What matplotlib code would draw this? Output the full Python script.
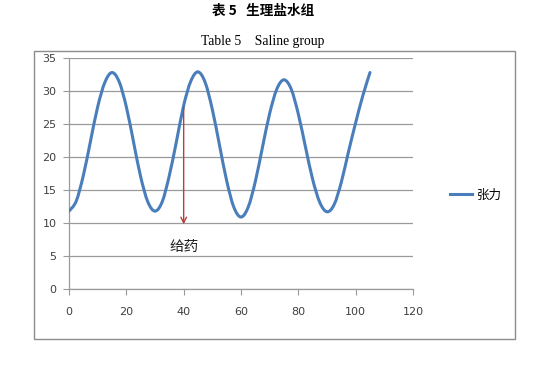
import matplotlib
matplotlib.use("Agg")
import matplotlib.pyplot as plt
from matplotlib.patches import Rectangle, PathPatch
from matplotlib.path import Path
from matplotlib.lines import Line2D

# ==========================================
# DATA
# ==========================================
time = [0, 2.5, 5, 7.5, 10, 12.5, 15, 17.5, 20, 22.5, 25, 27.5, 30,
        32.5, 35, 37.5, 40, 42.5, 45, 47.5, 50, 52.5, 55, 57.5, 60,
        62.5, 65, 67.5, 70, 72.5, 75, 77.5, 80, 82.5, 85, 87.5, 90,
        92.5, 95, 97.5, 100, 102.5, 105]
tension = [11.8, 13.3, 17.2, 22.4, 27.6, 31.3, 32.8, 31.4, 27.6, 22.3, 17.0, 13.2, 11.8,
           13.2, 17.2, 22.4, 27.8, 31.5, 32.9, 31.3, 27.2, 21.8, 16.4, 12.4, 10.9,
           12.4, 16.3, 21.5, 26.6, 30.3, 31.7, 30.3, 26.5, 21.5, 16.6, 13.1, 11.7,
           12.8, 16.2, 20.8, 25.2, 29.3, 32.8]
series_name = "张力"
dose_time = 40
dose_from, dose_to = 27.6, 9.8
dose_label = "给药"
title_cn = "表 5   生理盐水组"
title_en = "Table 5    Saline group"

CJK = ["Noto Sans CJK SC", "DejaVu Sans"]
LINE_BLUE = "#4a7ebb"
GRID_GRAY = "#9a9a9a"
TEXT_GRAY = "#404040"


def smooth_path(xs, ys):
    # Excel-style "smoothed line": cubic Bezier segments through the points
    pts = list(zip(xs, ys))
    n = len(pts)
    verts = [pts[0]]
    codes = [Path.MOVETO]
    for i in range(n - 1):
        p0 = pts[i - 1] if i > 0 else pts[i]
        p1, p2 = pts[i], pts[i + 1]
        p3 = pts[i + 2] if i + 2 < n else pts[i + 1]
        c1 = (p1[0] + (p2[0] - p0[0]) / 6, p1[1] + (p2[1] - p0[1]) / 6)
        c2 = (p2[0] - (p3[0] - p1[0]) / 6, p2[1] - (p3[1] - p1[1]) / 6)
        verts += [c1, c2, p2]
        codes += [Path.CURVE4] * 3
    return Path(verts, codes)


# ==========================================
# PLOT
# ==========================================
fig = plt.figure(figsize=(5.45, 3.67), dpi=100)
fig.patch.set_facecolor("white")

# outer chart frame
fig.patches.append(Rectangle((34 / 545, 1 - 339 / 367), 481 / 545, 288 / 367,
                             transform=fig.transFigure, fill=False,
                             edgecolor="#8c8c8c", linewidth=1.0))

ax = fig.add_axes([69 / 545, 1 - 289 / 367, 344 / 545, 231 / 367])
ax.add_patch(PathPatch(smooth_path(time, tension), facecolor="none",
                       edgecolor=LINE_BLUE, linewidth=2.2, capstyle="round",
                       joinstyle="round", zorder=3))

ax.set_xlim(0, 120)
ax.set_ylim(0, 35)
ax.set_xticks(range(0, 121, 20))
ax.set_yticks(range(0, 36, 5))
ax.grid(axis="y", color=GRID_GRAY, linewidth=0.9)
ax.set_axisbelow(True)
for s in ["top", "right"]:
    ax.spines[s].set_visible(False)
for s in ["left", "bottom"]:
    ax.spines[s].set_color(GRID_GRAY)
    ax.spines[s].set_linewidth(0.9)
ax.tick_params(axis="both", direction="out", length=4, color=GRID_GRAY,
               labelsize=8, labelcolor=TEXT_GRAY)
ax.tick_params(axis="x", pad=9)
ax.tick_params(axis="y", pad=5)

# dosing arrow
ax.annotate("", xy=(dose_time, dose_to), xytext=(dose_time, dose_from),
            arrowprops=dict(arrowstyle="->", color="#b5403f", lw=1.0,
                            shrinkA=0, shrinkB=0))
ax.text(dose_time, 6.4, dose_label, ha="center", va="center", fontsize=10.5,
        family=CJK, color="#202020")

handle = Line2D([], [], color=LINE_BLUE, linewidth=2.2)
ax.legend([handle], [series_name], loc="center left",
          bbox_to_anchor=(444 / 545, 1 - 195 / 367),
          bbox_transform=fig.transFigure, frameon=False, borderpad=0,
          handlelength=1.7, handletextpad=0.4,
          prop={"family": CJK, "size": 9})

fig.text(263 / 545, 1 - 11 / 367, title_cn, ha="center", va="center",
         fontsize=9.8, family=CJK, fontweight="bold")
fig.text(263 / 545, 1 - 41 / 367, title_en, ha="center", va="center",
         fontsize=9.8, family="Liberation Serif")

plt.savefig("out.png", dpi=100)
plt.close()
